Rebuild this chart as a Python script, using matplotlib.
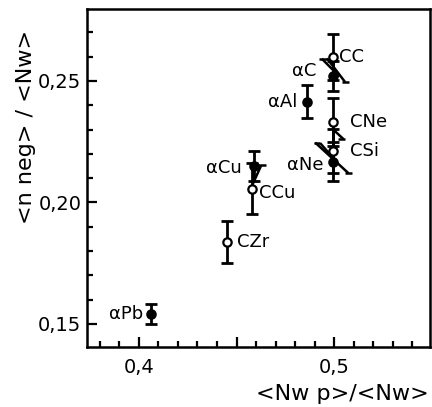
import matplotlib
matplotlib.use("Agg")
import matplotlib.pyplot as plt
from matplotlib.ticker import MultipleLocator, FixedLocator

# ---- data ----
labels = ['αPb', 'CZr', 'CCu', 'αCu', 'αAl', 'CC', 'αC', 'CNe', 'CSi', 'αNe']
x_vals = [0.4065, 0.4453, 0.4580, 0.4590, 0.4860, 0.4993, 0.4995, 0.4995, 0.4995, 0.4992]
y_vals = [0.1540, 0.1837, 0.2056, 0.2150, 0.2414, 0.2599, 0.2520, 0.2331, 0.2212, 0.2167]
y_err = [0.0040, 0.0085, 0.0105, 0.0060, 0.0068, 0.0095, 0.0062, 0.0100, 0.0090, 0.0080]
filled = [True, False, False, True, True, False, True, False, False, True]

x_ticks = [0.4, 0.45, 0.5]
x_ticklabels = ['0,4', '', '0,5']
y_ticks = [0.15, 0.20, 0.25]
y_ticklabels = ['0,15', '0,20', '0,25']

# label offsets (pixels) and alignment
label_off = {
    'CC': (6, 0, 'left'), 'αC': (-17, 5, 'right'), 'αAl': (-9, 0, 'right'),
    'CNe': (17, 0, 'left'), 'CSi': (17, 0, 'left'), 'αNe': (-9, -3, 'right'),
    'αCu': (-12, -2, 'right'), 'CCu': (7, -4, 'left'), 'CZr': (10, 0, 'left'),
    'αPb': (-8, 0, 'right'),
}

# pairing bracket strokes (data coordinates)
brackets = [
    [(0.4937, 0.2591), (0.5027, 0.2518)],
    [(0.4963, 0.2593), (0.5056, 0.2495)],
    [(0.4920, 0.2591), (0.4963, 0.2591)],
    [(0.5039, 0.2495), (0.5073, 0.2495)],
    [(0.4988, 0.2305), (0.5048, 0.2260)],
    [(0.5017, 0.2260), (0.5056, 0.2260)],
    [(0.4903, 0.2246), (0.5073, 0.2120)],
    [(0.4894, 0.2246), (0.4928, 0.2246)],
    [(0.5056, 0.2120), (0.5090, 0.2120)],
    [(0.4928, 0.2244), (0.4990, 0.2187)],
    [(0.4580, 0.2070), (0.4625, 0.2150)],
    [(0.4610, 0.2152), (0.4650, 0.2152)],
]

plt.rcParams['font.family'] = ['DejaVu Sans']
fig = plt.figure(figsize=(4.32, 4.07), dpi=100)
ax = fig.add_axes([87/432, (407-347)/407, (430-87)/432, (347-9)/407])

for xv, yv, ye, f in zip(x_vals, y_vals, y_err, filled):
    ax.errorbar(xv, yv, yerr=ye, fmt='none', ecolor='black', elinewidth=2.0,
                capsize=4, capthick=2.0, zorder=3)
    ax.plot(xv, yv, 'o', ms=6, mfc='black' if f else 'white', mec='black',
            mew=1.6, zorder=4)

for lab, xv, yv in zip(labels, x_vals, y_vals):
    dx, dy, ha = label_off[lab]
    ax.annotate(lab, (xv, yv), xytext=(dx, dy), textcoords='offset pixels',
                ha=ha, va='center', fontsize=13)

for br in brackets:
    bx = [p[0] for p in br]
    by = [p[1] for p in br]
    ax.plot(bx, by, color='black', lw=1.8, zorder=2, solid_capstyle='butt')

ax.set_xlim(0.3735, 0.549)
ax.set_ylim(0.1405, 0.2796)
ax.xaxis.set_major_locator(FixedLocator(x_ticks))
ax.set_xticklabels(x_ticklabels)
ax.xaxis.set_minor_locator(MultipleLocator(0.01))
ax.yaxis.set_major_locator(FixedLocator(y_ticks))
ax.set_yticklabels(y_ticklabels)
ax.yaxis.set_minor_locator(MultipleLocator(0.01))

ax.tick_params(which='both', direction='in', top=False, right=False,
               labelsize=14, width=1.6, pad=4)
ax.tick_params(axis='x', which='both', pad=8)
ax.tick_params(which='major', length=7)
ax.tick_params(which='minor', length=4)
for s in ax.spines.values():
    s.set_linewidth(1.8)

fig.text(429/432, (407-400)/407, '<Nw p>/<Nw>', ha='right', va='baseline', fontsize=16)
fig.text(26/432, (407-127)/407, '<n neg> / <Nw>', ha='center', va='center',
         rotation=90, fontsize=16)

fig.savefig('out.png', dpi=100)
